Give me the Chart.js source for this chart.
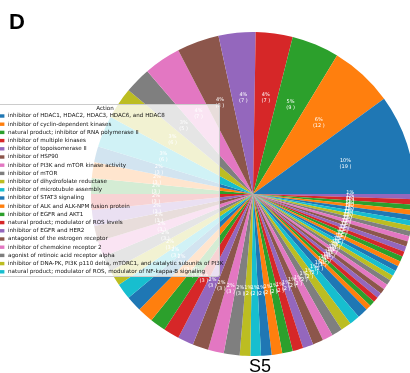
<!DOCTYPE html>
<html>
<head>
<meta charset="utf-8">
<script src="https://cdn.jsdelivr.net/npm/chart.js@4.4.0/dist/chart.umd.min.js"></script>
<style>
html, body { margin: 0; padding: 0; background: #fff; overflow: hidden; }
#wrap { width: 410px; height: 373px; overflow: hidden; }
</style>
</head>
<body>
<div id="wrap"><canvas id="pieChart" width="420" height="373"></canvas></div>
<script>
// legend only lists the 20 biggest groups
const actions = [
    'inhibitor of HDAC1, HDAC2, HDAC3, HDAC6, and HDAC8',
    'inhibitor of cyclin-dependent kinases',
    'natural product; inhibitor of RNA polymerase II',
    'inhibitor of multiple kinases',
    'inhibitor of topoisomerase II',
    'inhibitor of HSP90',
    'inhibitor of PI3K and mTOR kinase activity',
    'inhibitor of mTOR',
    'inhibitor of dihydrofolate reductase',
    'inhibitor of microtubule assembly',
    'inhibitor of STAT3 signaling',
    'inhibitor of ALK and ALK-NPM fusion protein',
    'inhibitor of EGFR and AKT1',
    'natural product; modulator of ROS levels',
    'inhibitor of EGFR and HER2',
    'antagonist of the estrogen receptor',
    'inhibitor of chemokine receptor 2',
    'agonist of retinoic acid receptor alpha',
    'inhibitor of DNA-PK, PI3K p110 delta, mTORC1, and catalytic subunits of PI3K',
    'natural product; modulator of ROS, modulator of NF-kappa-B signaling'
];

const counts = [
    19, 12, 9, 7, 7, 8, 7, 5, 6, 6,
    3, 3, 3, 3, 3, 3, 3, 3, 3, 3,
    3, 3, 3, 3, 3, 3, 3, 3, 2, 2,
    2, 2, 2, 2, 2, 2, 2, 2, 2, 2,
    2, 1, 1, 1, 1, 1, 1, 1, 1, 1,
    1, 1, 1, 1, 1, 1, 1, 1, 1, 1,
    1, 1, 1, 1, 1
];

const tab10 = ['#1f77b4', '#ff7f0e', '#2ca02c', '#d62728', '#9467bd',
               '#8c564b', '#e377c2', '#7f7f7f', '#bcbd22', '#17becf'];

document.addEventListener('DOMContentLoaded', ()=>{
    const ctx = document.getElementById('pieChart');
    const total = counts.reduce((a, b) => a + b, 0);

    const colors = [];
    const labels = [];
    counts.forEach((c, i) =>{
        colors.push(tab10[i % tab10.length]);
        labels.push(actions[i] || '');
    })

    // slices should run counter-clockwise from 3 o'clock, chart.js goes clockwise,
    // so hand it everything reversed and start at 0 deg (rotation 90)
    const data = {
        labels: labels.slice().reverse(),
        datasets: [{
            label: 'Action',
            data: counts.slice().reverse(),
            backgroundColor: colors.slice().reverse(),
            borderWidth: 0
        }]
    };

    // "pct%\n(n )" in white at 0.6 of the radius
    const pctLabels = {
        id: 'pctLabels',
        afterDatasetsDraw(chart){
            const c = chart.ctx;
            const meta = chart.getDatasetMeta(0);
            const vals = chart.data.datasets[0].data;
            c.save();
            c.fillStyle = '#fff';
            c.font = '5px "DejaVu Sans"';
            c.textAlign = 'center';
            c.textBaseline = 'middle';
            meta.data.forEach((arc, j) =>{
                const p = arc.getProps(['x', 'y', 'startAngle', 'endAngle', 'outerRadius']);
                const mid = (p.startAngle + p.endAngle) / 2;
                const r = p.outerRadius * 0.6;
                const x = p.x + r * Math.cos(mid);
                const y = p.y + r * Math.sin(mid);
                const pct = Math.round(vals[j] / total * 100);
                c.fillText(pct + '%', x, y - 3);
                c.fillText('(' + vals[j] + ' )', x, y + 3);
            })
            c.restore();
        }
    };

    // legend box sits on top of the pie, plus the panel letter and caption
    const actionLegend = {
        id: 'actionLegend',
        afterDraw(chart){
            const c = chart.ctx;
            c.save();
            c.fillStyle = 'rgba(255,255,255,0.8)';
            c.strokeStyle = '#cccccc';
            c.lineWidth = 1;
            c.beginPath();
            c.roundRect(-10.5, 104.5, 230, 172, 2);
            c.fill();
            c.stroke();

            c.font = '5.6px "DejaVu Sans"';
            c.fillStyle = '#111';
            c.textAlign = 'center';
            c.textBaseline = 'middle';
            c.fillText('Action', 105, 108.5);

            c.textAlign = 'left';
            actions.forEach((name, i) =>{
                const y = 115.9 + i * 8.2;
                c.fillStyle = tab10[i % tab10.length];
                c.fillRect(-6, y - 1.6, 10.4, 3.4);
                c.fillStyle = '#111';
                c.fillText(name, 8, y);
            })

            c.fillStyle = '#000';
            c.textBaseline = 'alphabetic';
            c.font = 'bold 22px "Liberation Sans"';
            c.fillText('D', 9, 29);
            c.font = '18px "Liberation Sans"';
            c.textAlign = 'center';
            c.fillText('S5', 260, 371.5);
            c.restore();
        }
    };

    const config = {
        type: 'pie',
        data: data,
        options: {
            responsive: false,
            animation: false,
            rotation: 90,
            layout: { padding: { left: 91, top: 32, right: 5, bottom: 17 } },
            plugins: {
                legend: { display: false },
                tooltip: { enabled: false }
            }
        },
        plugins: [pctLabels, actionLegend]
    };
    new Chart(ctx, config);
})
</script>
</body>
</html>
